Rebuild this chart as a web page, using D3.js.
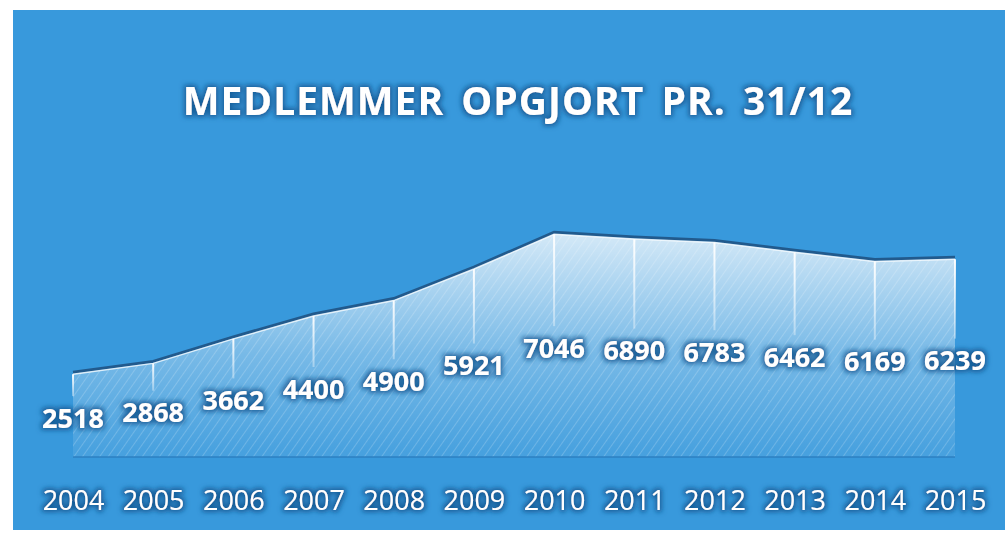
<!DOCTYPE html>
<html lang="da">

<head>
  <meta http-equiv="Content-Type" content="text/html; charset=UTF-8">
  <title>Medlemmer opgjort pr. 31/12</title>
  <style type="text/css">
    body {
      margin: 0;
      background: white;
    }

    svg text {
      font-family: "Open Sans", "Noto Sans", sans-serif;
      fill: white;
    }
  </style>
</head>

<body>
  <svg width="1005" height="533"></svg>
  <script type="text/javascript" src="https://cdn.jsdelivr.net/npm/d3@7"></script>
  <script>
    // 1. data
    var years = ["2004", "2005", "2006", "2007", "2008", "2009", "2010", "2011", "2012", "2013", "2014", "2015"];
    var members = [2518, 2868, 3662, 4400, 4900, 5921, 7046, 6890, 6783, 6462, 6169, 6239];
    var title = "MEDLEMMER OPGJORT PR. 31/12";

    var data = years.map(function (y, i) { return { year: y, value: members[i] }; });

    var svg = d3.select("svg");
    var width = +svg.attr("width");
    var height = +svg.attr("height");

    // 2. scales
    var x = d3.scalePoint()
      .domain(years)
      .range([73, 955]);

    var y = d3.scaleLinear()
      .domain([0, 8000])
      .range([452, 452 - 8000 * 0.0309]);

    var defs = svg.append("defs");

    // area gradient: white at top, fading into the blue
    var grad = defs.append("linearGradient")
      .attr("id", "areaGrad")
      .attr("gradientUnits", "userSpaceOnUse")
      .attr("x1", 0).attr("x2", 0)
      .attr("y1", y(7046)).attr("y2", y(0));
    grad.append("stop").attr("offset", "0%").attr("stop-color", "#ffffff").attr("stop-opacity", 0.78);
    grad.append("stop").attr("offset", "55%").attr("stop-color", "#ffffff").attr("stop-opacity", 0.32);
    grad.append("stop").attr("offset", "100%").attr("stop-color", "#ffffff").attr("stop-opacity", 0.08);

    // faint diagonal hatch over the area
    var hatch = defs.append("pattern")
      .attr("id", "hatch")
      .attr("patternUnits", "userSpaceOnUse")
      .attr("width", 7).attr("height", 7)
      .attr("patternTransform", "rotate(35)");
    hatch.append("line")
      .attr("x1", 0).attr("y1", 0).attr("x2", 0).attr("y2", 7)
      .attr("stroke", "white").attr("stroke-width", 1.5).attr("stroke-opacity", 0.25);

    // drop line fade
    var dropGrad = defs.append("linearGradient")
      .attr("id", "dropGrad")
      .attr("x1", 0).attr("x2", 0).attr("y1", 0).attr("y2", 1);
    dropGrad.append("stop").attr("offset", "0%").attr("stop-color", "#ffffff").attr("stop-opacity", 0.95);
    dropGrad.append("stop").attr("offset", "100%").attr("stop-color", "#ffffff").attr("stop-opacity", 0.35);

    // dark blue halo behind the white text
    var glow = defs.append("filter").attr("id", "glow")
      .attr("x", "-20%").attr("y", "-40%").attr("width", "140%").attr("height", "180%");
    glow.append("feMorphology").attr("in", "SourceAlpha").attr("operator", "dilate").attr("radius", 1.5).attr("result", "thick");
    glow.append("feGaussianBlur").attr("in", "thick").attr("stdDeviation", 2.5).attr("result", "blur");
    glow.append("feFlood").attr("flood-color", "#14558f").attr("flood-opacity", 0.85);
    glow.append("feComposite").attr("in2", "blur").attr("operator", "in").attr("result", "halo");
    var merge = glow.append("feMerge");
    merge.append("feMergeNode").attr("in", "halo");
    merge.append("feMergeNode").attr("in", "SourceGraphic");

    // 3. background panel
    svg.append("rect")
      .attr("x", 13).attr("y", 10)
      .attr("width", width - 13).attr("height", 520)
      .attr("fill", "#3899dc");

    // 4. area
    var area = d3.area()
      .x(function (d) { return x(d.year); })
      .y0(y(0) + 5)
      .y1(function (d) { return y(d.value); });

    var line = d3.line()
      .x(function (d) { return x(d.year); })
      .y(function (d) { return y(d.value); });

    // dark edge above the area
    svg.append("path")
      .datum(data)
      .attr("d", line)
      .attr("fill", "none")
      .attr("stroke", "#1d4f7f")
      .attr("stroke-width", 3)
      .attr("stroke-opacity", 0.85)
      .attr("transform", "translate(0,-2)");

    svg.append("path")
      .datum(data)
      .attr("d", area)
      .attr("fill", "url(#areaGrad)");

    svg.append("path")
      .datum(data)
      .attr("d", area)
      .attr("fill", "url(#hatch)");

    // faint bottom edge of the plot
    svg.append("line")
      .attr("x1", x(years[0])).attr("x2", x(years[years.length - 1]))
      .attr("y1", y(0) + 5).attr("y2", y(0) + 5)
      .attr("stroke", "#2c80c2").attr("stroke-width", 1.5);

    svg.append("path")
      .datum(data)
      .attr("d", line)
      .attr("fill", "none")
      .attr("stroke", "white")
      .attr("stroke-opacity", 0.8)
      .attr("stroke-width", 1.5);

    // 5. drop lines + data labels
    function labelY(d) { return (y(d.value) + y(0)) / 2 + 5; }

    svg.selectAll(".drop")
      .data(data)
      .enter()
      .append("rect")
      .attr("class", "drop")
      .attr("x", function (d) { return x(d.year) - 1; })
      .attr("y", function (d) { return y(d.value); })
      .attr("width", 2)
      .attr("height", function (d) { return labelY(d) - 22 - y(d.value); })
      .attr("fill", "url(#dropGrad)");

    svg.selectAll(".val")
      .data(data)
      .enter()
      .append("text")
      .attr("class", "val")
      .attr("x", function (d) { return x(d.year); })
      .attr("y", labelY)
      .attr("dy", "0.36em")
      .attr("text-anchor", "middle")
      .attr("font-size", 27)
      .attr("font-weight", 700)
      .attr("filter", "url(#glow)")
      .text(function (d) { return d.value; });

    // 6. x axis labels
    var xAxis = d3.axisBottom(x).tickSize(0).tickPadding(0);
    var gx = svg.append("g")
      .attr("transform", "translate(0,500)")
      .call(xAxis);
    gx.select(".domain").remove();
    gx.selectAll("text")
      .attr("y", 0)
      .attr("dy", "0.36em")
      .attr("font-size", 27)
      .attr("font-family", null)
      .attr("fill", null)
      .attr("filter", "url(#glow)");

    // 7. title
    svg.append("text")
      .attr("x", 518)
      .attr("y", 101)
      .attr("dy", "0.36em")
      .attr("text-anchor", "middle")
      .attr("font-size", 39)
      .attr("font-weight", 700)
      .attr("letter-spacing", 1)
      .attr("word-spacing", 6)
      .attr("filter", "url(#glow)")
      .text(title);
  </script>
</body>

</html>
